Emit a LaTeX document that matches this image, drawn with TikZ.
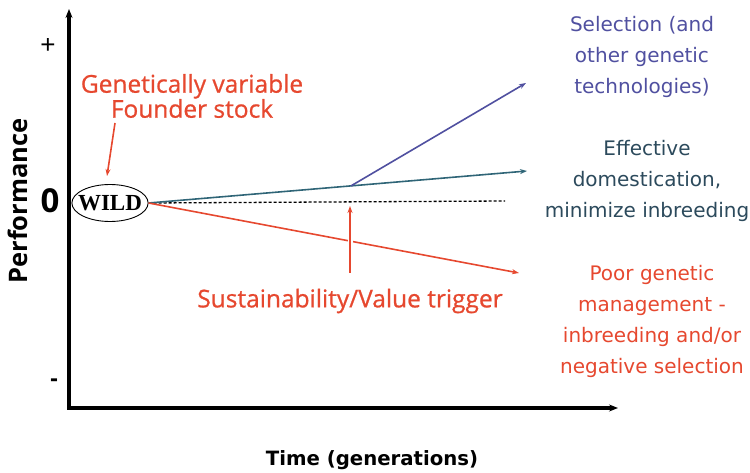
\documentclass[tikz,border=0pt]{standalone}
\usepackage{fontspec}
\setmainfont{Liberation Sans}
\newfontfamily\tagfont[FakeBold=0.8]{Open Sans}
\newfontfamily\axisfont{Open Sans}
\newfontfamily\handfont{DejaVu Sans}
\newfontfamily\wildfont{Liberation Serif}
\usepackage{xcolor}
\usepackage{tikz}
\usetikzlibrary{arrows.meta,positioning,calc,shapes.geometric}

\definecolor{redc}{HTML}{E6482F}
\definecolor{bluec}{HTML}{5050A0}
\definecolor{tealc}{HTML}{2F6577}
\definecolor{tealtext}{HTML}{2C4A5C}

\begin{document}
\begin{tikzpicture}[x=1pt, y=-1pt,
                    every node/.style={align=center, inner sep=0pt},
                    axis/.style={line width=3.2pt, -{Stealth[length=9pt, width=7pt]}},
                    trend/.style={line width=1.6pt, -{Stealth[length=7pt, width=5pt]}},
                    tag/.style={font=\tagfont\fontsize{24.5}{25}\selectfont, text=redc},
                    hand/.style={font=\handfont\fontsize{20}{31}\selectfont}]
                                \useasboundingbox (0,0) rectangle (750,473);

                                % axes
                                \coordinate (origin) at (69,408);
                                \coordinate (ytop) at (69,9);
                                \coordinate (xend) at (618,408);
                                \draw[axis] (origin) -- (ytop);
                                \draw[axis] ([xshift=-1.6pt]origin) -- (xend);

                                \node (plus) at (48,46) {\fontsize{26}{26}\selectfont +};
                                \node (zero) at (50,201) {\axisfont\fontsize{33}{33}\selectfont\bfseries 0};
                                \node (minus) at (54,383) {\fontsize{24}{24}\selectfont\bfseries -};
                                \node (perf) [rotate=90] at (18,201) {\axisfont\fontsize{25.5}{26}\selectfont\bfseries Performance};
                                \node (time) at (372,460) {\handfont\fontsize{19.7}{20}\selectfont\bfseries Time (generations)};

                                \node (wild) [draw, ellipse, line width=0.9pt, inner xsep=-5pt, minimum width=76pt, minimum height=37pt] at (110,203)
                                    {\wildfont\fontsize{23}{23}\selectfont\bfseries WILD};

                                % trends
                                \coordinate (effend) at (527,171);
                                \coordinate (selend) at (526,83);
                                \coordinate (poorend) at (519,273);
                                \coordinate (dotend) at (505,201);
                                \coordinate (fork) at ($(wild.east)!0.535!(effend)$);

                                \draw[line width=1.3pt, dash pattern=on 3pt off 2pt] (wild.east) -- (dotend);
                                \draw[trend, tealc] (wild.east) -- (effend);
                                \draw[trend, bluec] (fork) -- (selend);
                                \draw[trend, redc] (wild.east) -- (poorend);

                                % labels
                                \node (founder) [tag] at (192,96) {Genetically variable\\Founder stock};
                                \coordinate (foundertop) at (115,123);
                                \coordinate (founderhead) at (107,176);
                                \draw[trend, redc] (foundertop) -- (founderhead);

                                \node (trigger) [tag] at (350,301) {Sustainability/Value trigger};
                                \coordinate (trigbot) at (350,273);
                                \coordinate (trigtop) at (350,206);
                                \draw[trend, redc, preaction={draw=white, line width=5pt, -}] (trigbot) -- (trigtop);

                                \node (sel) [hand, text=bluec] at (642,57) {Selection (and\\other genetic\\technologies)};
                                \node (eff) [hand, text=tealtext] at (647,181) {Effective\\domestication,\\minimize inbreeding};
                                \node (poor) [hand, text=redc] at (652,321) {Poor genetic\\management -\\inbreeding and/or\\negative selection};
                            \end{tikzpicture}
\end{document}
